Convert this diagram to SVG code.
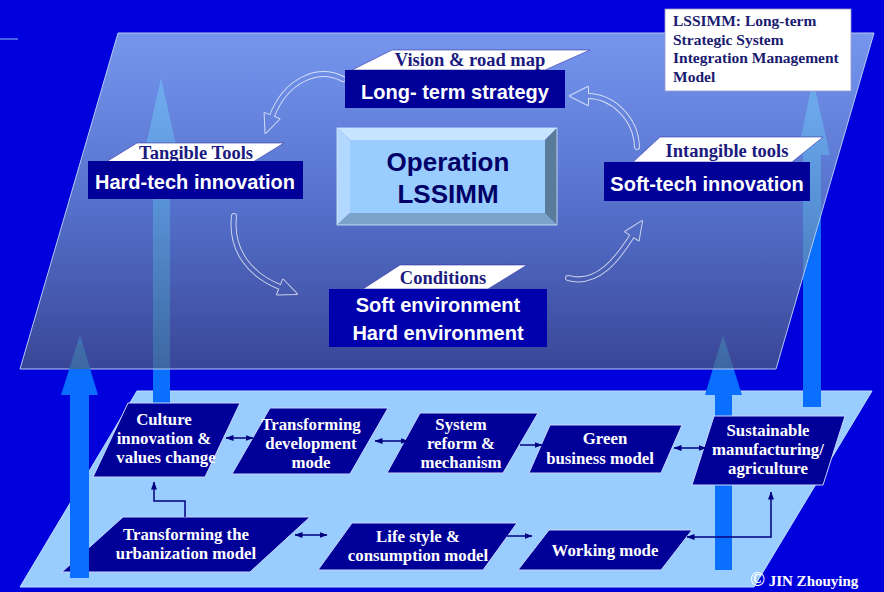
<svg xmlns="http://www.w3.org/2000/svg" width="884" height="592" viewBox="0 0 884 592">
  <defs>
    <linearGradient id="planeFill" x1="0" y1="33" x2="0" y2="369" gradientUnits="userSpaceOnUse">
      <stop offset="0" stop-color="#A8D6F6"/>
      <stop offset="0.5" stop-color="#7AA2C6"/>
      <stop offset="1" stop-color="#52647A"/>
    </linearGradient>
    <marker id="ah" viewBox="0 0 8 6" refX="7.5" refY="3" markerWidth="8" markerHeight="6" markerUnits="userSpaceOnUse" orient="auto-start-reverse">
      <path d="M0,0 L8,3 L0,6 z" fill="#000080"/>
    </marker>
    <!-- outline-only curved arrows: white band with transparent inside -->
    <mask id="hollow" maskUnits="userSpaceOnUse" x="0" y="0" width="884" height="592">
      <g fill="none" stroke="#fff" stroke-width="6" stroke-linecap="round">
        <path d="M343 79 C318 66 286 80 272 116"/>
        <path d="M637 147 C636 118 612 96 588 96"/>
        <path d="M234 216 C230 252 252 276 280 287"/>
        <path d="M568 278 C598 286 618 258 632 236"/>
      </g>
      <g fill="#fff" stroke="#fff" stroke-width="2" stroke-linejoin="round">
        <polygon points="279.4,118.9 265.5,133 264.6,113.1"/>
        <polygon points="588,87 570,96 588,105"/>
        <polygon points="283,279.6 297,294 277,294.4"/>
        <polygon points="638.7,240.3 642,221 625.3,231.7"/>
      </g>
      <g fill="none" stroke="#000" stroke-width="4" stroke-linecap="round">
        <path d="M343 79 C318 66 286 80 272 116"/>
        <path d="M637 147 C636 118 612 96 588 96"/>
        <path d="M234 216 C230 252 252 276 280 287"/>
        <path d="M568 278 C598 286 618 258 632 236"/>
      </g>
      <g fill="#000">
        <polygon points="279.4,118.9 265.5,133 264.6,113.1"/>
        <polygon points="588,87 570,96 588,105"/>
        <polygon points="283,279.6 297,294 277,294.4"/>
        <polygon points="638.7,240.3 642,221 625.3,231.7"/>
      </g>
    </mask>
    <clipPath id="leftArrowClip">
      <polygon points="70,578 70,395 61,395 80,335 98,395 89,395 89,578"/>
    </clipPath>
  </defs>
  <style>
    .bigArrow { fill: #0A6EFF; }
    .darkBox { fill: #000099; }
    .tag { fill: #FFFFFF; stroke: #3333AA; stroke-width: 0.6; }
    .tagText { font-family: "Liberation Serif", serif; font-weight: bold; font-size: 18.5px; fill: #1A1A80; text-anchor: middle; }
    .boxText { font-family: "Liberation Sans", Arial, sans-serif; font-weight: bold; font-size: 20px; fill: #FFFFFF; text-anchor: middle; }
    .opText { font-family: "Liberation Sans", Arial, sans-serif; font-weight: bold; font-size: 26px; fill: #000066; text-anchor: middle; }
    .node { fill: #000099; stroke: #C8D6FF; stroke-width: 1; }
    .nodeText { font-family: "Liberation Serif", serif; font-weight: bold; font-size: 16.8px; fill: #FFFFFF; text-anchor: middle; }
    .link { fill: none; stroke: #000080; stroke-width: 1.5; }
    .noteText { font-family: "Liberation Serif", serif; font-weight: bold; font-size: 15.5px; fill: #1A1A70; }
  </style>

  <!-- background -->
  <rect x="0" y="0" width="884" height="592" fill="#0000DC"/>
  <line x1="0" y1="39" x2="18" y2="39" stroke="#5A82E6" stroke-width="1.5"/>

  <!-- lower (base) plane -->
  <polygon points="137,391 872,391 754,587 20,587" fill="#99CCFF" stroke="#BFE0FF" stroke-width="1"/>

  <!-- wide upward arrows, behind the upper plane -->
  <g id="arrow-culture">
    <polygon class="bigArrow" points="153,403 153,145 146,145 161,78 176,145 170,145 170,403"/>
  </g>
  <g id="arrow-sustainable-right">
    <polygon class="bigArrow" points="803,407 803,155 797,155 813,80 830,155 821,155 821,407"/>
  </g>
  <g id="arrow-sustainable">
    <polygon class="bigArrow" points="715,570 715,395 705,395 723,335 742,395 732,395 732,570"/>
  </g>

  <!-- upper (strategy) plane, translucent -->
  <polygon points="118,33 874,33 776,369 20,369" fill="url(#planeFill)" fill-opacity="0.7" stroke="#B4C8F4" stroke-width="1"/>

  <!-- cycle arrows between the four upper elements -->
  <g id="connectors-cycle">
    <rect x="0" y="0" width="884" height="592" fill="#FFFFFF" fill-opacity="0.7" mask="url(#hollow)"/>
  </g>

  <!-- upper elements -->
  <g id="long-term-strategy">
    <polygon class="tag" points="392,50 590,50 545,70 352,70"/>
    <text class="tagText" x="470" y="66">Vision &amp; road map</text>
    <rect class="darkBox" x="345" y="70" width="220" height="38"/>
    <text class="boxText" x="455" y="99">Long- term strategy</text>
  </g>

  <g id="operation-lssimm">
    <polygon points="337,128 557,128 545,140 350,140" fill="#C6E3FF"/>
    <polygon points="337,128 350,140 350,213 337,225" fill="#B3D8FF"/>
    <polygon points="557,128 557,225 545,213 545,140" fill="#5B7B9B"/>
    <polygon points="337,225 350,213 545,213 557,225" fill="#7CA3CA"/>
    <rect x="350" y="140" width="195" height="73" fill="#99CCFF"/>
    <rect x="337" y="128" width="220" height="97" fill="none" stroke="#D6EBFF" stroke-width="0.8"/>
    <text class="opText" x="448" y="171">Operation</text>
    <text class="opText" x="448" y="203">LSSIMM</text>
  </g>

  <g id="hard-tech-innovation">
    <polygon class="tag" points="137,143 284,143 253,162 106,162"/>
    <text class="tagText" x="196" y="159">Tangible Tools</text>
    <rect class="darkBox" x="88" y="161" width="215" height="38"/>
    <text class="boxText" x="195" y="189">Hard-tech innovation</text>
  </g>

  <g id="soft-tech-innovation">
    <polygon class="tag" points="660,137 823,137 792,162 633,162"/>
    <text class="tagText" x="727" y="157">Intangible tools</text>
    <rect class="darkBox" x="604" y="162" width="206" height="39"/>
    <text class="boxText" x="707" y="191">Soft-tech innovation</text>
  </g>

  <g id="conditions">
    <polygon class="tag" points="400,265 527,265 488,289 363,289"/>
    <text class="tagText" x="443" y="284">Conditions</text>
    <rect x="329" y="289" width="218" height="58" fill="#0000AC"/>
    <text class="boxText" x="438" y="312">Soft environment</text>
    <text class="boxText" x="438" y="340">Hard environment</text>
  </g>

  <g id="lssimm-note">
    <rect x="665" y="9" width="186" height="82" fill="#FFFFFF" stroke="#9999CC" stroke-width="0.8"/>
    <text class="noteText" x="673" y="26">LSSIMM: Long-term</text>
    <text class="noteText" x="673" y="44.5">Strategic System</text>
    <text class="noteText" x="673" y="63">Integration Management</text>
    <text class="noteText" x="673" y="81.5">Model</text>
  </g>

  <!-- lower row of parallelogram nodes -->
  <g id="culture-innovation">
    <polygon class="node" points="128,403 240,403 205,477 93,477"/>
    <text class="nodeText" x="164" y="425">Culture</text>
    <text class="nodeText" x="164" y="444">innovation &amp;</text>
    <text class="nodeText" x="166" y="463">values change</text>
  </g>
  <g id="transforming-development">
    <polygon class="node" points="270,408 388,408 350,474 232,474"/>
    <text class="nodeText" x="311" y="430">Transforming</text>
    <text class="nodeText" x="311" y="449">development</text>
    <text class="nodeText" x="311" y="468">mode</text>
  </g>
  <g id="system-reform">
    <polygon class="node" points="420,413 538,413 503,473 387,473"/>
    <text class="nodeText" x="461" y="430">System</text>
    <text class="nodeText" x="461" y="449">reform &amp;</text>
    <text class="nodeText" x="461" y="468">mechanism</text>
  </g>
  <g id="green-business">
    <polygon class="node" points="550,425 682,425 661,473 529,473"/>
    <text class="nodeText" x="605" y="444">Green</text>
    <text class="nodeText" x="600" y="464">business model</text>
  </g>
  <g id="sustainable-manufacturing">
    <polygon class="node" points="714,416 845,416 823,485 692,485"/>
    <text class="nodeText" x="768" y="436">Sustainable</text>
    <text class="nodeText" x="768" y="455">manufacturing/</text>
    <text class="nodeText" x="768" y="474">agriculture</text>
  </g>
  <g id="urbanization-model">
    <polygon class="node" points="123,517 310,517 250,572 62,572"/>
    <text class="nodeText" x="186" y="540">Transforming the</text>
    <text class="nodeText" x="186" y="559">urbanization model</text>
  </g>
  <g id="life-style">
    <polygon class="node" points="352,523 517,523 483,570 318,570"/>
    <text class="nodeText" x="418" y="542">Life style &amp;</text>
    <text class="nodeText" x="418" y="561">consumption model</text>
  </g>
  <g id="working-mode">
    <polygon class="node" points="549,530 692,530 661,570 518,570"/>
    <text class="nodeText" x="605" y="556">Working mode</text>
  </g>

  <!-- links between the lower nodes -->
  <g id="connectors">
    <line class="link" x1="226" y1="438" x2="253" y2="438" marker-start="url(#ah)" marker-end="url(#ah)"/>
    <line class="link" x1="375" y1="441" x2="408" y2="441" marker-start="url(#ah)" marker-end="url(#ah)"/>
    <line class="link" x1="520" y1="445" x2="542" y2="445" marker-end="url(#ah)"/>
    <line class="link" x1="674" y1="448" x2="706" y2="448" marker-start="url(#ah)" marker-end="url(#ah)"/>
    <line class="link" x1="295" y1="535" x2="327" y2="535" marker-start="url(#ah)" marker-end="url(#ah)"/>
    <line class="link" x1="507" y1="536" x2="532" y2="536" marker-end="url(#ah)"/>
    <polyline class="link" points="687,537 771,537 771,492" marker-start="url(#ah)" marker-end="url(#ah)"/>
    <polyline class="link" points="185,517 185,501 154,501 154,482" marker-end="url(#ah)"/>
  </g>

  <!-- left wide arrow, in front of the base-plane nodes -->
  <g id="arrow-urbanization">
    <polygon class="bigArrow" points="70,578 70,395 61,395 80,335 98,395 89,395 89,578"/>
  </g>
  <!-- the part of the left arrow under the upper plane shows through it -->
  <polygon points="118,33 874,33 776,369 20,369" fill="url(#planeFill)" fill-opacity="0.7" clip-path="url(#leftArrowClip)"/>

  <text x="750" y="586" font-family="Liberation Serif, serif" font-weight="bold" font-size="15px" fill="#FFFFFF"><tspan font-size="20px">©</tspan> JIN Zhouying</text>
</svg>
